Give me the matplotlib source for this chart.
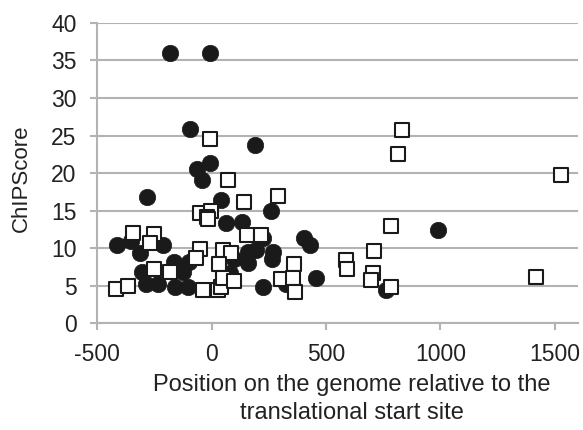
import matplotlib
matplotlib.use("Agg")
import matplotlib.pyplot as plt

# Series 1: filled circles
circle_x = [-183, -6, -93, 191, -64, -9, -42, -281, 40, 258, 64, 132, -412, -354, -212,
            -313, 226, 194, 161, 270, 262, 96, 161, -165, -100, -126, -303, -288, -235,
            -161, -104, 81, 226, 325, 404, 429, 458, 762, 988]
circle_y = [36.0, 36.0, 25.8, 23.8, 20.5, 21.3, 19.1, 16.8, 16.4, 14.9, 13.3, 13.5, 10.4, 10.9, 10.4,
            9.3, 11.3, 9.8, 9.5, 9.5, 8.5, 8.5, 8.0, 8.2, 8.2, 6.9, 6.8, 5.3, 5.3,
            4.9, 4.8, 6.7, 4.9, 5.2, 11.4, 10.4, 6.0, 4.4, 12.4]

# Series 2: open squares
square_x = [-9, 70, 143, 291, -49, -2, -20, -15, -342, -252, -271, 153, 216, -49, -67, 48, 84,
            30, -252, -183, 361, 303, 357, 364, -419, -365, -38, 26, 40, 49, 99, 834, 816,
            1528, 783, 710, 587, 590, 704, 695, 783, 1417]
square_y = [24.6, 19.1, 16.1, 16.9, 14.7, 14.9, 14.2, 13.9, 12.0, 11.9, 10.7, 11.8, 11.8, 9.9, 8.7, 9.8, 9.4,
            7.9, 7.3, 6.8, 7.9, 5.9, 6.0, 4.2, 4.6, 5.0, 4.5, 4.5, 4.8, 6.0, 5.6, 25.7, 22.5,
            19.8, 12.9, 9.6, 8.4, 7.2, 6.7, 5.8, 4.9, 6.2]

x_ticks = [-500, 0, 500, 1000, 1500]
y_ticks = [0, 5, 10, 15, 20, 25, 30, 35, 40]

plt.rcParams['font.family'] = ['Liberation Sans', 'DejaVu Sans']
text_color = '#222222'
grid_color = '#b3b3b3'

fig = plt.figure(figsize=(5.83, 4.30), dpi=100)
ax = fig.add_axes([0.1669, 0.248, 0.8237, 0.699])

ax.scatter(circle_x, circle_y, s=140, marker='o', color='#1a1a1a', edgecolors='#1a1a1a',
           linewidths=0.5, zorder=3, clip_on=False)
ax.scatter(square_x, square_y, s=105, marker='s', facecolors='white', edgecolors='#1a1a1a',
           linewidths=1.5, zorder=4, clip_on=False)

ax.set_xlim(-500, 1600)
ax.set_ylim(0, 40)
ax.set_xticks(x_ticks)
ax.set_yticks(y_ticks)
ax.set_xticklabels([str(v) for v in x_ticks])
ax.set_yticklabels([str(v) for v in y_ticks])

ax.yaxis.grid(True, color=grid_color, linewidth=1.5, zorder=0)
ax.set_axisbelow(True)
for side in ['top', 'right']:
    ax.spines[side].set_visible(False)
for side in ['left', 'bottom']:
    ax.spines[side].set_color(grid_color)
    ax.spines[side].set_linewidth(1.5)

ax.tick_params(axis='both', colors=grid_color, labelcolor=text_color, labelsize=16.5,
               width=1.5, length=5, direction='out')
ax.tick_params(axis='x', pad=9)
ax.tick_params(axis='y', pad=10)

fig.text(0.036, 0.585, 'ChIPScore', rotation=90, ha='center', va='center',
         fontsize=16, color=text_color)
fig.text(0.603, 0.131, 'Position on the genome relative to the\ntranslational start site',
         ha='center', va='top', fontsize=17, color=text_color, linespacing=1.35)

fig.savefig('out.png', dpi=100)
